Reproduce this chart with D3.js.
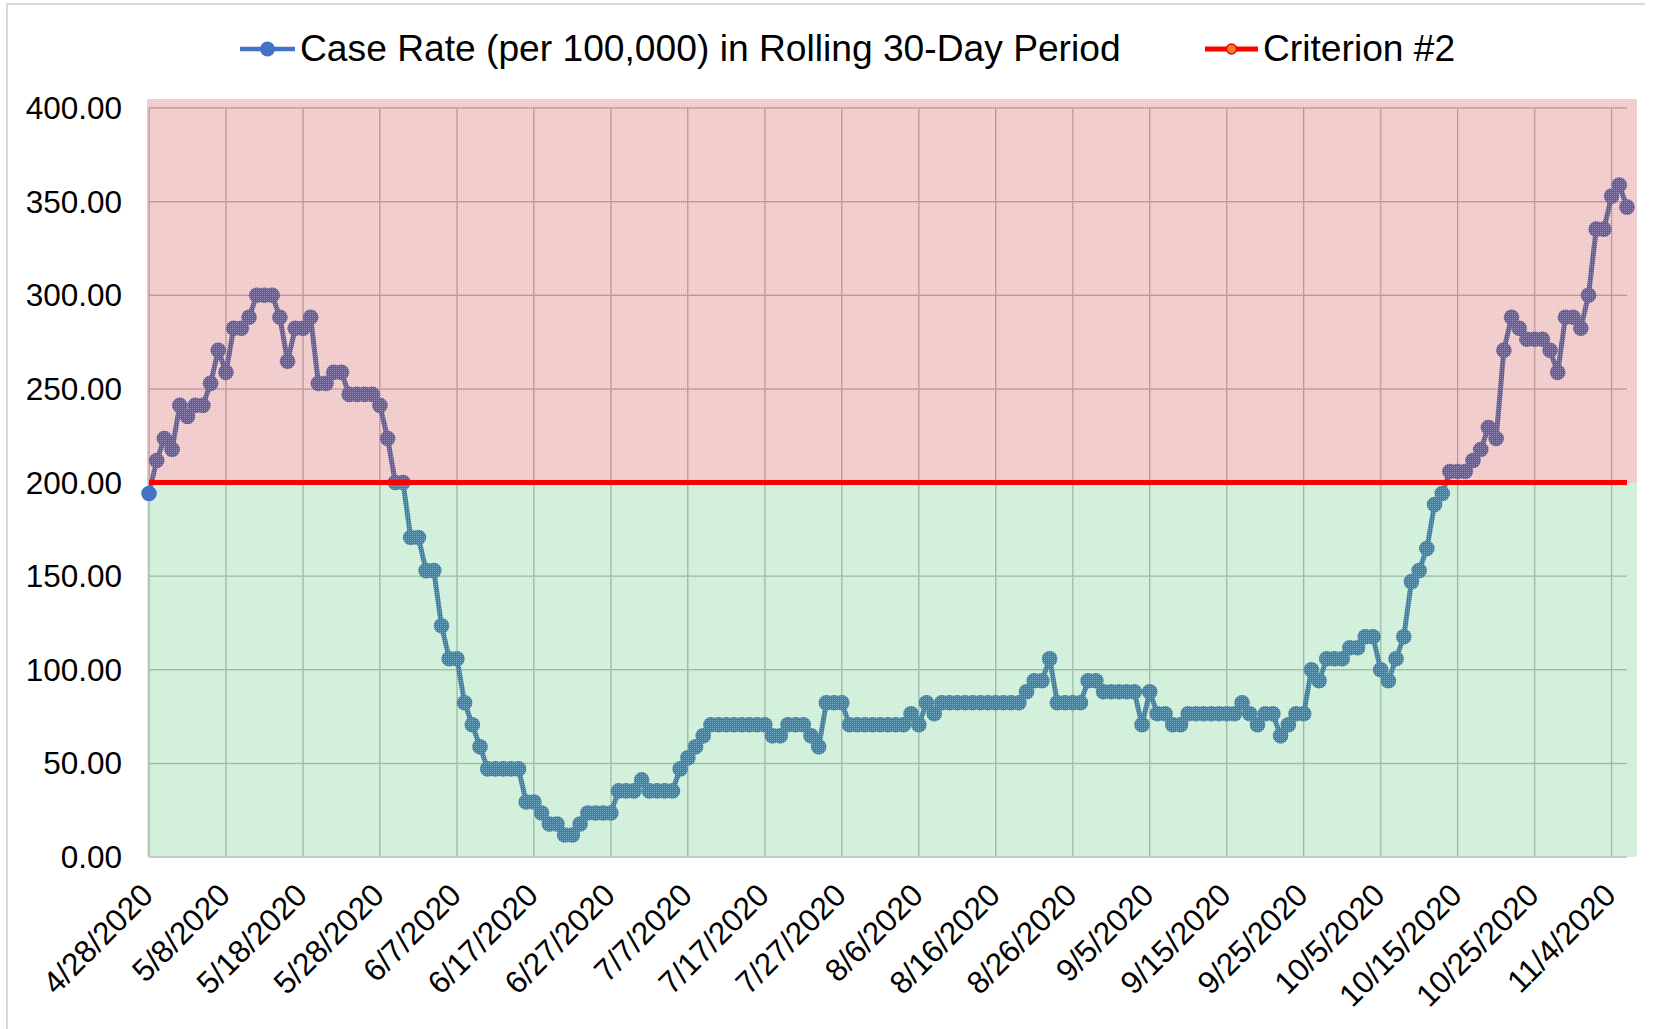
<!DOCTYPE html>
<html lang="en">
<head>
    <meta charset="UTF-8">
    <title>Case Rate in Rolling 30-Day Period</title>
    <script src="https://cdnjs.cloudflare.com/ajax/libs/d3/7.8.5/d3.min.js"></script>
    <style>
        body {
            margin: 0;
            background: white;
            font-family: "Liberation Sans", Arial, sans-serif;
        }
        .grid line {
            stroke: #bdbdbd;
            stroke-width: 1.5px;
        }
    </style>
</head>
<body>
    <svg id="chart"></svg>

    <script>
        // daily values, first day 4/28/2020
        const startDate = "4/28/2020";
        const caseRate = [
            194.12, 211.76, 223.53, 217.65, 241.18, 235.29, 241.18, 241.18, 252.94, 270.59,
            258.82, 282.35, 282.35, 288.24, 300.00, 300.00, 300.00, 288.24, 264.71, 282.35,
            282.35, 288.24, 252.94, 252.94, 258.82, 258.82, 247.06, 247.06, 247.06, 247.06,
            241.18, 223.53, 200.00, 200.00, 170.59, 170.59, 152.94, 152.94, 123.53, 105.88,
            105.88, 82.35, 70.59, 58.82, 47.06, 47.06, 47.06, 47.06, 47.06, 29.41,
            29.41, 23.53, 17.65, 17.65, 11.76, 11.76, 17.65, 23.53, 23.53, 23.53,
            23.53, 35.29, 35.29, 35.29, 41.18, 35.29, 35.29, 35.29, 35.29, 47.06,
            52.94, 58.82, 64.71, 70.59, 70.59, 70.59, 70.59, 70.59, 70.59, 70.59,
            70.59, 64.71, 64.71, 70.59, 70.59, 70.59, 64.71, 58.82, 82.35, 82.35,
            82.35, 70.59, 70.59, 70.59, 70.59, 70.59, 70.59, 70.59, 70.59, 76.47,
            70.59, 82.35, 76.47, 82.35, 82.35, 82.35, 82.35, 82.35, 82.35, 82.35,
            82.35, 82.35, 82.35, 82.35, 88.24, 94.12, 94.12, 105.88, 82.35, 82.35,
            82.35, 82.35, 94.12, 94.12, 88.24, 88.24, 88.24, 88.24, 88.24, 70.59,
            88.24, 76.47, 76.47, 70.59, 70.59, 76.47, 76.47, 76.47, 76.47, 76.47,
            76.47, 76.47, 82.35, 76.47, 70.59, 76.47, 76.47, 64.71, 70.59, 76.47,
            76.47, 100.00, 94.12, 105.88, 105.88, 105.88, 111.76, 111.76, 117.65, 117.65,
            100.00, 94.12, 105.88, 117.65, 147.06, 152.94, 164.71, 188.24, 194.12, 205.88,
            205.88, 205.88, 211.76, 217.65, 229.41, 223.53, 270.59, 288.24, 282.35, 276.47,
            276.47, 276.47, 270.59, 258.82, 288.24, 288.24, 282.35, 300.00, 335.29, 335.29,
            352.94, 358.82, 347.06
        ];
        const criterion = 200;
        const yTicks = [0, 50, 100, 150, 200, 250, 300, 350, 400];
        const xTickLabels = [
            "4/28/2020", "5/8/2020", "5/18/2020", "5/28/2020", "6/7/2020", "6/17/2020",
            "6/27/2020", "7/7/2020", "7/17/2020", "7/27/2020", "8/6/2020", "8/16/2020",
            "8/26/2020", "9/5/2020", "9/15/2020", "9/25/2020", "10/5/2020", "10/15/2020",
            "10/25/2020", "11/4/2020"
        ];
        const seriesNames = ["Case Rate (per 100,000) in Rolling 30-Day Period", "Criterion #2"];
        // shaded zones: above the criterion (red) and below it (green)
        const zones = [[criterion, 405], [0, criterion]];

        const width = 1672, height = 1029;
        const margin = { top: 108, right: 45, bottom: 172, left: 149 };

        const parseDate = d3.utcParse("%m/%d/%Y");
        const fmtDate = d3.utcFormat("%-m/%-d/%Y");
        const start = parseDate(startDate);
        const data = caseRate.map((v, i) => ({ date: d3.utcDay.offset(start, i), value: v }));

        const x = d3.scaleUtc()
            .domain(d3.extent(data, d => d.date))
            .range([margin.left, width - margin.right]);
        const y = d3.scaleLinear()
            .domain([0, 400])
            .range([height - margin.bottom, margin.top]);

        const svg = d3.select("#chart")
            .attr("width", width)
            .attr("height", height);

        // dotted see-through fills
        const defs = svg.append("defs");
        function dotPattern(id, color, alpha) {
            const p = defs.append("pattern")
                .attr("id", id)
                .attr("width", 2).attr("height", 2)
                .attr("patternUnits", "userSpaceOnUse");
            p.append("rect").attr("width", 2).attr("height", 2)
                .attr("fill", color).attr("fill-opacity", alpha);
            p.append("rect").attr("width", 1).attr("height", 1)
                .attr("fill", "white").attr("fill-opacity", 0.3);
        }
        dotPattern("redDots", "#e00800", 0.23);
        dotPattern("greenDots", "#00c845", 0.21);

        // outer border
        svg.append("path")
            .attr("d", `M7,${height} V4 H1645`)
            .attr("fill", "none")
            .attr("stroke", "#d9d9d9")
            .attr("stroke-width", 2);

        const tickDates = xTickLabels.map(parseDate);

        // gridlines
        const grid = svg.append("g").attr("class", "grid");
        grid.selectAll(".h")
            .data(yTicks)
            .enter()
            .append("line")
            .attr("x1", margin.left).attr("x2", width - margin.right)
            .attr("y1", d => y(d)).attr("y2", d => y(d));
        grid.selectAll(".v")
            .data(tickDates)
            .enter()
            .append("line")
            .attr("x1", d => x(d)).attr("x2", d => x(d))
            .attr("y1", y(400)).attr("y2", y(0));

        // case rate line + markers
        const line = d3.line()
            .x(d => x(d.date))
            .y(d => y(d.value));

        svg.append("path")
            .datum(data)
            .attr("d", line)
            .attr("fill", "none")
            .attr("stroke", "#4472c4")
            .attr("stroke-width", 5)
            .attr("stroke-linejoin", "round");

        svg.append("g")
            .selectAll("circle")
            .data(data.slice(1))
            .enter()
            .append("circle")
            .attr("cx", d => x(d.date))
            .attr("cy", d => y(d.value))
            .attr("r", 7.8)
            .attr("fill", "#4472c4");

        // shaded zones drawn over the series
        const bx0 = margin.left - 2, bx1 = width - margin.right + 10;
        svg.selectAll(".band")
            .data(zones)
            .enter()
            .append("rect")
            .attr("class", "band")
            .attr("x", bx0)
            .attr("width", bx1 - bx0)
            .attr("y", d => y(d[1]))
            .attr("height", d => y(d[0]) - y(d[1]))
            .attr("fill", (d, i) => i === 0 ? "url(#redDots)" : "url(#greenDots)")
            .attr("shape-rendering", "crispEdges");

        // first point stays above the fill
        svg.append("circle")
            .attr("cx", x(data[0].date))
            .attr("cy", y(data[0].value))
            .attr("r", 7.8)
            .attr("fill", "#4472c4");

        // criterion line
        svg.append("line")
            .attr("x1", x(data[0].date))
            .attr("x2", x(data[data.length - 1].date))
            .attr("y1", y(criterion))
            .attr("y2", y(criterion))
            .attr("stroke", "#ff0000")
            .attr("stroke-width", 5);

        // x axis line
        svg.append("line")
            .attr("x1", margin.left).attr("x2", width - margin.right)
            .attr("y1", y(0)).attr("y2", y(0))
            .attr("stroke", "#c8c8c8").attr("stroke-width", 2);

        // y labels
        svg.append("g")
            .selectAll("text")
            .data(yTicks)
            .enter()
            .append("text")
            .attr("x", 122)
            .attr("y", d => y(d))
            .attr("dy", "0.35em")
            .attr("text-anchor", "end")
            .style("font-size", "31.5px")
            .text(d => d3.format(".2f")(d));

        // x labels, rotated
        svg.append("g")
            .selectAll("text")
            .data(tickDates)
            .enter()
            .append("text")
            .attr("transform", d => `translate(${x(d) + 6},${y(0) + 40}) rotate(-45)`)
            .attr("text-anchor", "end")
            .style("font-size", "31.5px")
            .text(d => fmtDate(d));

        // legend
        const legend = svg.append("g").style("font-size", "37.2px");
        const lg1 = legend.append("g");
        lg1.append("line").attr("x1", 240).attr("x2", 295).attr("y1", 49).attr("y2", 49)
            .attr("stroke", "#4472c4").attr("stroke-width", 4.5);
        lg1.append("circle").attr("cx", 267.5).attr("cy", 49).attr("r", 7.5).attr("fill", "#4472c4");
        lg1.append("text").attr("x", 300).attr("y", 61).text(seriesNames[0]);

        const lg2 = legend.append("g");
        lg2.append("line").attr("x1", 1205).attr("x2", 1258).attr("y1", 49).attr("y2", 49)
            .attr("stroke", "#ff0000").attr("stroke-width", 5);
        lg2.append("circle").attr("cx", 1231.5).attr("cy", 49).attr("r", 5)
            .attr("fill", "#ed7d31").attr("stroke", "#ff0000").attr("stroke-width", 1.5);
        lg2.append("text").attr("x", 1263).attr("y", 61).text(seriesNames[1]);
    </script>
</body>
</html>
